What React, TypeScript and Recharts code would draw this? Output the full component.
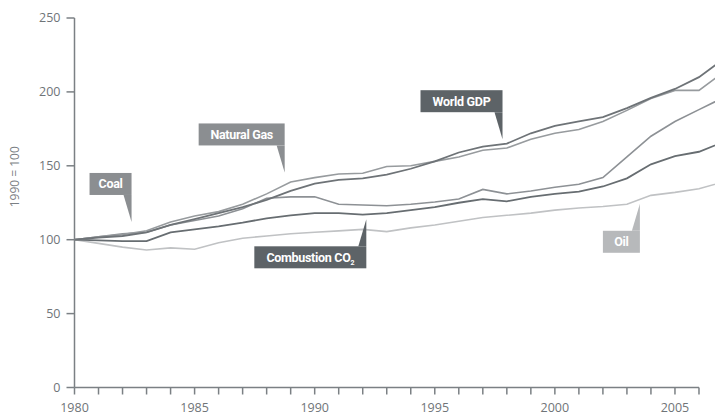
import React from 'react';
import {
  LineChart,
  Line,
  XAxis,
  YAxis,
  ReferenceLine,
  ReferenceDot,
} from 'recharts';

// 1980 = 100 index series
const years = [
  1980, 1981, 1982, 1983, 1984, 1985, 1986, 1987, 1988, 1989, 1990, 1991, 1992, 1993,
  1994, 1995, 1996, 1997, 1998, 1999, 2000, 2001, 2002, 2003, 2004, 2005, 2006, 2007,
];
const worldGdp = [
  100, 101.5, 102.5, 105, 110, 114, 118, 122, 127, 133, 138, 140.5, 141.5, 144,
  148, 153, 159, 163, 165, 172, 177, 180, 183, 189, 196, 202, 210, 222,
];
const naturalGas = [
  100, 102, 103.5, 106, 112, 116, 119, 124, 131, 139, 142, 144.5, 145, 149.5,
  150, 153, 156, 160.5, 162, 168, 172, 174.5, 180, 187.5, 195.5, 201, 201, 213,
];
const coal = [
  100, 102, 104, 105, 110, 113, 116, 121, 128, 129, 129, 124, 123.5, 123,
  124, 125.5, 127.5, 134, 131, 133, 135.5, 137.5, 142, 156, 170, 180, 188, 196,
];
const combustionCo2 = [
  100, 99.5, 99, 99, 105, 107, 109, 111.5, 114.5, 116.5, 118, 118, 117, 118,
  120, 122, 125, 127.5, 126, 129, 131, 132.5, 136, 141.5, 151, 156.5, 159.5, 166,
];
const oil = [
  100, 97.5, 95, 93, 94.5, 93.5, 98, 101, 102.5, 104, 105, 106, 107, 105.5,
  108, 110, 112.5, 115, 116.5, 118, 120, 121.5, 122.5, 124, 130, 132, 134.5, 139,
];

const yTicks = [0, 50, 100, 150, 200, 250];
const xTicks = years.filter((y) => y <= 2006);

// callout labels: text, anchor point (year, index), box width, pointing direction
const calloutText = ['Coal', 'Natural Gas', 'World GDP', 'Combustion CO', 'Oil'];
const calloutSub = ['', '', '', '2', ''];
const calloutYear = [1982.375, 1988.75, 1997.82, 1992.15, 2003.54];
const calloutValue = [112, 145.5, 168, 113.8, 124.3];
const calloutWidth = [42, 86, 82, 112, 37];
const calloutUp = [true, true, true, false, false];
const calloutFill = ['#8b8e91', '#8b8e91', '#5d6367', '#5d6367', '#b7b9bb'];

const data = years.map((year, i) => ({
  year,
  gdp: worldGdp[i],
  gas: naturalGas[i],
  coal: coal[i],
  co2: combustionCo2[i],
  oil: oil[i],
}));

const AXIS = '#7b8084';
const TICK_FONT = { fontSize: 12.5, fill: '#6f7478', fontFamily: 'Open Sans, sans-serif' };

function Callout(props: any) {
  const { cx, cy, idx } = props;
  if (cx == null || cy == null) return null;
  const w = calloutWidth[idx];
  const h = 22;
  const gap = 27;
  const up = calloutUp[idx];
  const right = cx;
  const left = right - w;
  const top = up ? cy - gap - h : cy + gap;
  const baseY = up ? top + h : top;
  const fill = calloutFill[idx];
  return (
    <g>
      <rect x={left} y={top} width={w} height={h} fill={fill} />
      <polygon
        points={`${right - 8},${baseY} ${right},${baseY} ${cx},${cy}`}
        fill={fill}
      />
      <text
        x={left + w / 2}
        y={top + h / 2 + 4.5}
        textAnchor="middle"
        fill="#ffffff"
        fontSize={12.5}
        fontWeight="bold"
        fontFamily="Roboto, sans-serif"
        letterSpacing={-0.3}
      >
        {calloutText[idx]}
        {calloutSub[idx] ? (
          <tspan fontSize={7} dy={3}>
            {calloutSub[idx]}
          </tspan>
        ) : null}
      </text>
    </g>
  );
}

export default function App() {
  return (
    <div
      style={{
        position: 'absolute',
        left: 0,
        top: 0,
        width: 715,
        height: 415,
        overflow: 'hidden',
        background: '#fff',
      }}
    >
      <LineChart
        width={740}
        height={415}
        data={data}
        margin={{ top: 18, right: 17, bottom: 0, left: 0 }}
      >
        <XAxis
          dataKey="year"
          type="number"
          domain={[1980, 2007]}
          ticks={xTicks}
          interval={0}
          height={27.5}
          tickFormatter={(v: number) => (v % 5 === 0 ? String(v) : '')}
          axisLine={false}
          tickLine={{ stroke: AXIS, strokeWidth: 1.5 }}
          tickSize={7}
          tickMargin={9}
          tick={TICK_FONT}
        />
        <YAxis
          type="number"
          domain={[0, 250]}
          ticks={yTicks}
          width={74.5}
          axisLine={{ stroke: AXIS, strokeWidth: 1.5 }}
          tickLine={{ stroke: AXIS, strokeWidth: 1.5 }}
          tickSize={8}
          tickMargin={6}
          tick={TICK_FONT}
          label={{
            value: '1990 = 100',
            angle: -90,
            position: 'insideLeft',
            offset: 15,
            style: {
              fontSize: 12,
              fill: '#7b8084',
              fontFamily: 'Open Sans, sans-serif',
              textAnchor: 'middle',
            },
            dy: -26,
          }}
        />
        <ReferenceLine
          segment={[
            { x: 1980, y: 0 },
            { x: 2006, y: 0 },
          ]}
          stroke={AXIS}
          strokeWidth={1.5}
        />
        <Line dataKey="oil" stroke="#c0c2c4" strokeWidth={1.6} dot={false} activeDot={false} isAnimationActive={false} />
        <Line dataKey="co2" stroke="#676d71" strokeWidth={1.8} dot={false} activeDot={false} isAnimationActive={false} />
        <Line dataKey="coal" stroke="#8d9195" strokeWidth={1.6} dot={false} activeDot={false} isAnimationActive={false} />
        <Line dataKey="gas" stroke="#979b9e" strokeWidth={1.6} dot={false} activeDot={false} isAnimationActive={false} />
        <Line dataKey="gdp" stroke="#6e7377" strokeWidth={1.8} dot={false} activeDot={false} isAnimationActive={false} />
        {calloutText.map((t, i) => (
          <ReferenceDot
            key={t}
            x={calloutYear[i]}
            y={calloutValue[i]}
            r={0}
            shape={(p: any) => <Callout {...p} idx={i} />}
          />
        ))}
      </LineChart>
    </div>
  );
}
